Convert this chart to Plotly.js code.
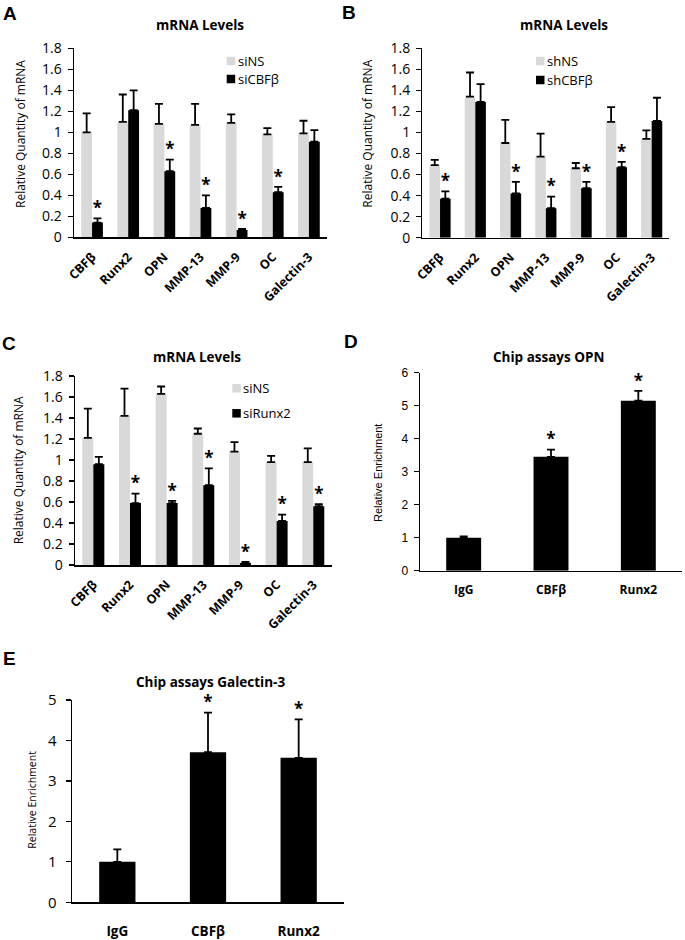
<!DOCTYPE html>
<html><head><meta charset="utf-8">
<script src="https://cdn.plot.ly/plotly-3.0.1.min.js"></script>
<style>html,body{margin:0;padding:0;background:#fff}#chart{width:685px;height:940px}</style>
</head><body><div id="chart"></div>
<script>
// ---------- DATA ----------
const genes = ['CBFβ','Runx2','OPN','MMP-13','MMP-9','OC','Galectin-3'];
const chipCats = ['IgG','CBFβ','Runx2'];

// Panel A
const aNames = ['siNS','siCBFβ'];
const aCtrl    = [1.00,1.10,1.08,1.07,1.09,0.98,0.99];
const aCtrlErr = [0.18,0.26,0.19,0.20,0.08,0.06,0.12];
const aKd      = [0.14,1.21,0.63,0.28,0.07,0.43,0.91];
const aKdErr   = [0.04,0.19,0.11,0.12,0.01,0.05,0.11];
const aSig     = [1,0,1,1,1,1,0];

// Panel B
const bNames = ['shNS','shCBFβ'];
const bCtrl    = [0.69,1.34,0.90,0.77,0.66,1.10,0.94];
const bCtrlErr = [0.05,0.23,0.22,0.22,0.05,0.14,0.08];
const bKd      = [0.37,1.29,0.42,0.28,0.47,0.67,1.11];
const bKdErr   = [0.07,0.17,0.11,0.11,0.06,0.05,0.22];
const bSig     = [1,0,1,1,1,1,0];

// Panel C
const cNames = ['siNS','siRunx2'];
const cCtrl    = [1.21,1.42,1.63,1.25,1.08,0.98,0.98];
const cCtrlErr = [0.28,0.26,0.07,0.05,0.09,0.06,0.13];
const cKd      = [0.96,0.59,0.59,0.76,0.02,0.42,0.56];
const cKdErr   = [0.07,0.09,0.02,0.16,0.01,0.06,0.02];
const cSig     = [0,1,1,1,1,1,1];

// Panel D
const dVals = [1.00,3.45,5.15];
const dErr  = [0.04,0.22,0.30];
const dSig  = [0,1,1];

// Panel E
const eVals = [1.00,3.71,3.57];
const eErr  = [0.31,0.98,0.95];
const eSig  = [0,1,1];

const titles = ['mRNA Levels','mRNA Levels','mRNA Levels','Chip assays OPN','Chip assays Galectin-3'];
const panelLetters = ['A','B','C','D','E'];
const yTitles = ['Relative Quantity of mRNA','Relative Quantity of mRNA','Relative Quantity of mRNA','Relative Enrichment','Relative Enrichment'];

// ---------- STYLE ----------
const W = 685, H = 940;
const px = x => x / W;
const py = y => 1 - y / H;
const OPEN = '"Open Sans", "DejaVu Sans", sans-serif';
const ARIAL = '"Liberation Sans", Arial, sans-serif';
const LIGHT = '#d9d9d9', DARK = '#000000';

const add = (a, b) => a.map((v, i) => +(v + b[i]).toFixed(3));
const zeros = n => new Array(n).fill(0);

function errObj(arr) {
  return {type:'data', symmetric:false, array:arr, arrayminus:zeros(arr.length),
          color:'#000', thickness:1.8, width:4};
}

const traces = [];
function groupedPanel(ax, names, ctrl, ctrlErr, kd, kdErr, sig) {
  const xa = 'x' + ax, ya = 'y' + ax;
  traces.push({type:'bar', x:genes, y:ctrl, name:names[0], xaxis:xa, yaxis:ya,
    marker:{color:LIGHT}, error_y:errObj(ctrlErr), offsetgroup:'a', alignmentgroup:'g'+ax,
    showlegend:false, hoverinfo:'skip'});
  traces.push({type:'bar', x:genes, y:kd, name:names[1], xaxis:xa, yaxis:ya,
    marker:{color:DARK}, error_y:errObj(kdErr), offsetgroup:'b', alignmentgroup:'g'+ax,
    showlegend:false, hoverinfo:'skip'});
  traces.push({type:'scatter', mode:'text', x:genes, y:add(ctrl, ctrlErr), text:genes.map(()=>''),
    xaxis:xa, yaxis:ya, offsetgroup:'a', alignmentgroup:'s'+ax, showlegend:false, hoverinfo:'skip', cliponaxis:false});
  traces.push({type:'scatter', mode:'text', x:genes, y:add(kd, kdErr), text:sig.map(s => s ? '*' : ''),
    textposition:'top center', textfont:{family:OPEN, size:17, color:'#000', weight:700},
    xaxis:xa, yaxis:ya, offsetgroup:'b', alignmentgroup:'s'+ax, showlegend:false, hoverinfo:'skip', cliponaxis:false});
}
function chipPanel(ax, vals, err, sig) {
  const xa = 'x' + ax, ya = 'y' + ax;
  traces.push({type:'bar', x:chipCats, y:vals, xaxis:xa, yaxis:ya, width:0.4,
    marker:{color:DARK}, error_y:errObj(err), showlegend:false, hoverinfo:'skip'});
  traces.push({type:'scatter', mode:'text', x:chipCats, y:add(vals, err), text:sig.map(s => s ? '*' : ''),
    textposition:'top center', textfont:{family:OPEN, size:17, color:'#000', weight:700},
    xaxis:xa, yaxis:ya, showlegend:false, hoverinfo:'skip', cliponaxis:false});
}

groupedPanel('', aNames, aCtrl, aCtrlErr, aKd, aKdErr, aSig);
groupedPanel('2', bNames, bCtrl, bCtrlErr, bKd, bKdErr, bSig);
groupedPanel('3', cNames, cCtrl, cCtrlErr, cKd, cKdErr, cSig);
chipPanel('4', dVals, dErr, dSig);
chipPanel('5', eVals, eErr, eSig);

function yAx(anchor, dom, range, dtick, font, standoff) {
  return {anchor:anchor, domain:[py(dom[0]), py(dom[1])], range:range, dtick:dtick,
    showline:true, linecolor:'#000', linewidth:1.4, ticks:'outside', ticklen:5, tickwidth:1.2,
    tickcolor:'#000', showgrid:false, zeroline:false, tickfont:font, ticklabelstandoff:standoff,
    fixedrange:true};
}
function xAx(anchor, dom, font, angle, standoff) {
  return {anchor:anchor, domain:[px(dom[0]), px(dom[1])], type:'category',
    showline:true, linecolor:'#000', linewidth:1.5, ticks:'', showgrid:false, zeroline:false,
    tickfont:font, tickangle:angle, ticklabelstandoff:standoff, fixedrange:true};
}
const geneTickFont = {family:OPEN, size:12.5, color:'#000', weight:700};
const mrnaYFont = {family:OPEN, size:14, color:'#000'};

const layout = {
  width:W, height:H, margin:{l:0,r:0,t:0,b:0}, paper_bgcolor:'#fff', plot_bgcolor:'rgba(0,0,0,0)',
  barmode:'group', bargap:0.4, bargroupgap:0, scattermode:'group', scattergap:0.4,
  showlegend:false,
  xaxis:  xAx('y',  [74, 327], geneTickFont, -45, 6),
  yaxis:  yAx('x',  [237.3, 48.3], [0,1.8], 0.2, mrnaYFont, 3),
  xaxis2: xAx('y2', [422.4, 669.3], geneTickFont, -45, 6),
  yaxis2: yAx('x2', [237.7, 48.3], [0,1.8], 0.2, mrnaYFont, 3),
  xaxis3: xAx('y3', [75, 331.6], geneTickFont, -45, 6),
  yaxis3: yAx('x3', [565, 376], [0,1.8], 0.2, mrnaYFont, 3),
  xaxis4: xAx('y4', [420, 682], {family:OPEN, size:12, color:'#000', weight:700}, 0, 7),
  yaxis4: yAx('x4', [570.7, 372.7], [0,6], 1, {family:ARIAL, size:12, color:'#000'}, 3),
  xaxis5: xAx('y5', [72, 344], {family:OPEN, size:13.5, color:'#000', weight:700}, 0, 16),
  yaxis5: yAx('x5', [902.3, 700], [0,5], 1, {family:OPEN, size:15, color:'#000'}, 6),
  annotations:[], shapes:[]
};

function ann(x, y, text, font, xanchor, angle) {
  layout.annotations.push({xref:'paper', yref:'paper', x:px(x), y:py(y), text:text, showarrow:false,
    font:font, xanchor:xanchor || 'center', yanchor:'middle', textangle:angle || 0, borderpad:0});
}
// panel letters
const letterFont = {family:ARIAL, size:19, color:'#000', weight:700};
[[10,13.5],[349,12.5],[9,343],[351,341],[9,658]].forEach((p,i) => ann(p[0], p[1], panelLetters[i], letterFont));
// titles
const titleFont = {family:OPEN, size:13.5, color:'#000', weight:700};
[[200,25],[564,25],[197,357],[548,357],[210,682]].forEach((p,i) => ann(p[0], p[1], titles[i], titleFont));
// y titles
const yTitleFont = {family:OPEN, size:12, color:'#000'};
ann(20, 134, yTitles[0], yTitleFont, 'center', -90);
ann(366.7, 134, yTitles[1], yTitleFont, 'center', -90);
ann(18.3, 470, yTitles[2], yTitleFont, 'center', -90);
ann(378, 473, yTitles[3], {family:ARIAL, size:11, color:'#000'}, 'center', -90);
ann(31.7, 800, yTitles[4], {family:OPEN, size:10.5, color:'#000'}, 'center', -90);

// legends (squares + labels)
const legFont = {family:OPEN, size:13, color:'#000'};
function legend(xSq, xTxt, y1, y2, names) {
  [[y1, LIGHT, names[0]], [y2, DARK, names[1]]].forEach(([y, col, nm]) => {
    layout.shapes.push({type:'rect', xref:'paper', yref:'paper', x0:px(xSq), x1:px(xSq+8.5),
      y0:py(y+4.25), y1:py(y-4.25), fillcolor:col, line:{width:0}});
    ann(xTxt, y, nm, legFont, 'left');
  });
}
legend(226.7, 237, 61, 79, aNames);
legend(536, 546, 61, 80, bNames);
legend(232.3, 242, 388.3, 413.3, cNames);

Plotly.newPlot('chart', traces, layout, {displayModeBar:false, staticPlot:true});
</script>
</body></html>
